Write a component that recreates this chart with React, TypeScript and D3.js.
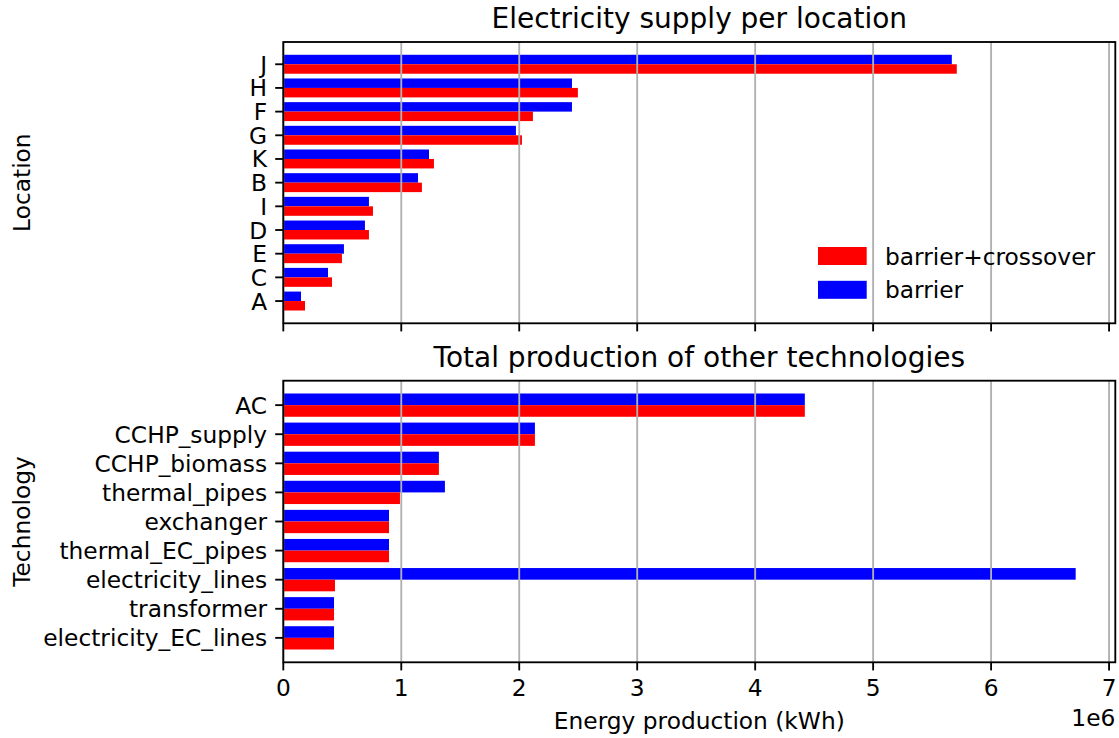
import React from "react";
import * as d3 from "d3";

const locations = ["J", "H", "F", "G", "K", "B", "I", "D", "E", "C", "A"];
const locBarrier = [5.667e6, 2.447e6, 2.447e6, 1.972e6, 1.235e6, 1.142e6, 0.726e6, 0.692e6, 0.514e6, 0.379e6, 0.150e6];
const locCrossover = [5.709e6, 2.497e6, 2.116e6, 2.023e6, 1.277e6, 1.175e6, 0.760e6, 0.726e6, 0.497e6, 0.413e6, 0.184e6];

const technologies = [
  "AC",
  "CCHP_supply",
  "CCHP_biomass",
  "thermal_pipes",
  "exchanger",
  "thermal_EC_pipes",
  "electricity_lines",
  "transformer",
  "electricity_EC_lines",
];
const techBarrier = [4.421e6, 2.133e6, 1.319e6, 1.370e6, 0.896e6, 0.896e6, 6.717e6, 0.430e6, 0.430e6];
const techCrossover = [4.421e6, 2.133e6, 1.319e6, 0.989e6, 0.896e6, 0.896e6, 0.438e6, 0.430e6, 0.430e6];

const xTicks = [0, 1e6, 2e6, 3e6, 4e6, 5e6, 6e6, 7e6];
const seriesNames = ["barrier+crossover", "barrier"];
const seriesColors = ["#ff0000", "#0000ff"];

const W = 1119;
const H = 738;
const LEFT = 283.3;
const RIGHT = 1115.3;
const FONT = "DejaVu Sans";
const FS = 23.3;
const TFS = 28;
const LW = 1.85;
const TICK = 8.1;

const allMax = d3.max([...locBarrier, ...locCrossover, ...techBarrier, ...techCrossover]) as number;
const x = d3.scaleLinear().domain([0, allMax * 1.05]).range([LEFT, RIGHT]);

type PanelProps = {
  cats: string[];
  blue: number[];
  red: number[];
  top: number;
  bottom: number;
  title: string;
  ylabel: string;
  showXLabels: boolean;
  legend: boolean;
};

function Panel({ cats, blue, red, top, bottom, title, ylabel, showXLabels, legend }: PanelProps) {
  const n = cats.length;
  const span = n - 1 + 0.8;
  const m = 0.05 * span;
  const y = d3.scaleLinear().domain([-0.4 - m, n - 1 + 0.4 + m]).range([top, bottom]);
  const bw = y(0.4) - y(0);
  return (
    <g>
      {cats.map((c, i) => (
        <g key={c}>
          <rect x={x(0)} y={y(i - 0.4)} width={x(blue[i]) - x(0)} height={bw} fill={seriesColors[1]} />
          <rect x={x(0)} y={y(i)} width={x(red[i]) - x(0)} height={bw} fill={seriesColors[0]} />
        </g>
      ))}
      {xTicks.map((t) => (
        <line key={"g" + t} x1={x(t)} x2={x(t)} y1={top} y2={bottom} stroke="#b0b0b0" strokeWidth={LW} />
      ))}
      <rect x={LEFT} y={top} width={RIGHT - LEFT} height={bottom - top} fill="none" stroke="#000" strokeWidth={LW} />
      {xTicks.map((t) => (
        <g key={"t" + t}>
          <line x1={x(t)} x2={x(t)} y1={bottom} y2={bottom + TICK} stroke="#000" strokeWidth={LW} />
          {showXLabels && (
            <text x={x(t)} y={bottom + 2 * TICK + 17} textAnchor="middle" fontSize={FS} fontFamily={FONT}>
              {String(t / 1e6)}
            </text>
          )}
        </g>
      ))}
      {cats.map((c, i) => (
        <g key={"y" + c}>
          <line x1={LEFT - TICK} x2={LEFT} y1={y(i)} y2={y(i)} stroke="#000" strokeWidth={LW} />
          <text x={LEFT - 2 * TICK} y={y(i) + 8.5} textAnchor="end" fontSize={FS} fontFamily={FONT}>
            {c}
          </text>
        </g>
      ))}
      <text x={(LEFT + RIGHT) / 2} y={top - 14} textAnchor="middle" fontSize={TFS} fontFamily={FONT}>
        {title}
      </text>
      <text
        transform={`translate(30,${(top + bottom) / 2}) rotate(-90)`}
        textAnchor="middle"
        fontSize={FS}
        fontFamily={FONT}
      >
        {ylabel}
      </text>
      {legend && (
        <g>
          {seriesNames.map((s, k) => (
            <g key={s}>
              <rect x={818} y={247 + k * 33.8} width={48.7} height={18} fill={seriesColors[k]} />
              <text x={885} y={264.5 + k * 33.8} fontSize={FS} fontFamily={FONT}>
                {s}
              </text>
            </g>
          ))}
        </g>
      )}
    </g>
  );
}

export default function App() {
  return (
    <svg width={W} height={H} style={{ position: "absolute", left: 0, top: 0, background: "#fff" }}>
      <rect width={W} height={H} fill="#fff" />
      <Panel
        cats={locations}
        blue={locBarrier}
        red={locCrossover}
        top={42}
        bottom={323.3}
        title="Electricity supply per location"
        ylabel="Location"
        showXLabels={false}
        legend={true}
      />
      <Panel
        cats={technologies}
        blue={techBarrier}
        red={techCrossover}
        top={380.7}
        bottom={662.3}
        title="Total production of other technologies"
        ylabel="Technology"
        showXLabels={true}
        legend={false}
      />
      <text x={(LEFT + RIGHT) / 2} y={728.5} textAnchor="middle" fontSize={FS} fontFamily={FONT}>
        Energy production (kWh)
      </text>
      <text x={RIGHT} y={726} textAnchor="end" fontSize={FS} fontFamily={FONT}>
        1e6
      </text>
    </svg>
  );
}
